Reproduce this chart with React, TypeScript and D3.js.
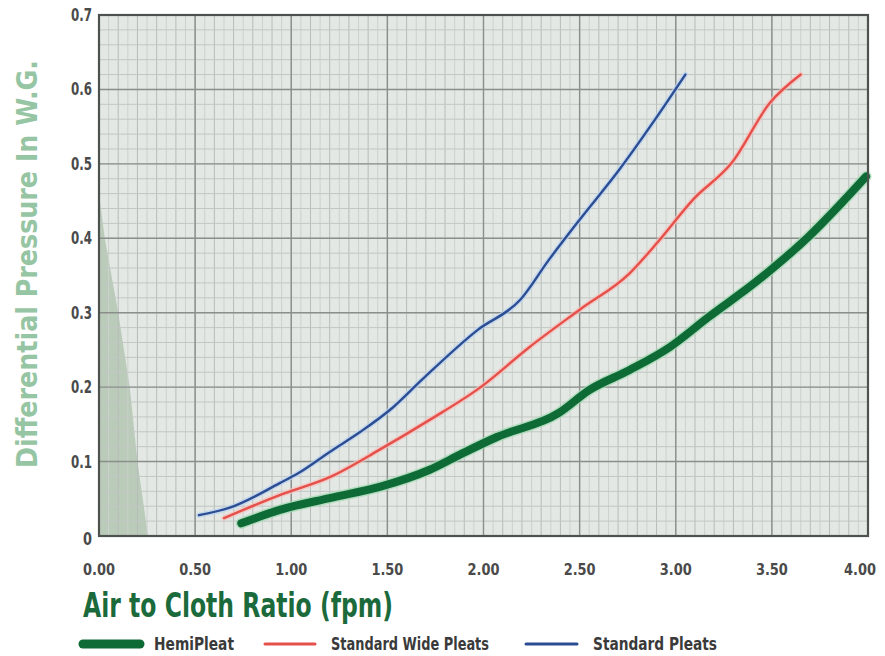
import React from "react";
import * as d3 from "d3";

const xTicks = [0, 0.5, 1, 1.5, 2, 2.5, 3, 3.5, 4];
const yTicks = [0, 0.1, 0.2, 0.3, 0.4, 0.5, 0.6, 0.7];

const hemiX = [0.74, 0.94, 1.2, 1.46, 1.72, 1.89, 2.07, 2.39, 2.55, 2.76, 2.97, 3.17, 3.43, 3.69, 3.99];
const hemiY = [0.017, 0.035, 0.051, 0.066, 0.089, 0.111, 0.133, 0.165, 0.196, 0.223, 0.254, 0.294, 0.344, 0.402, 0.483];

const wideX = [0.65, 0.94, 1.2, 1.46, 1.72, 1.98, 2.24, 2.5, 2.76, 2.91, 3.09, 3.29, 3.49, 3.65];
const wideY = [0.024, 0.055, 0.079, 0.116, 0.156, 0.199, 0.254, 0.304, 0.353, 0.396, 0.452, 0.501, 0.582, 0.62];

const stdX = [0.52, 0.68, 0.94, 1.04, 1.2, 1.36, 1.53, 1.68, 1.97, 2.19, 2.34, 2.5, 2.7, 2.88, 3.05];
const stdY = [0.028, 0.038, 0.071, 0.085, 0.113, 0.14, 0.173, 0.21, 0.277, 0.317, 0.371, 0.425, 0.49, 0.555, 0.62];

// decorative shaded wedge at left of the plot (x extent per pressure level)
const shadeX = [0, 0.005, 0.03, 0.1, 0.16, 0.2, 0.255];
const shadeY = [0.49, 0.45, 0.4, 0.3, 0.2, 0.1, 0];

const seriesNames = ["HemiPleat", "Standard Wide Pleats", "Standard Pleats"];

const FONT = "'Liberation Sans Narrow', 'DejaVu Sans Condensed', 'Liberation Sans', sans-serif";

export default function App() {
  const L = 99, R = 868, T = 15, B = 536;
  const x = d3.scaleLinear().domain([0, 4]).range([L, R]);
  const y = d3.scaleLinear().domain([0, 0.7]).range([B, T]);

  const line = d3
    .line<[number, number]>()
    .x((d) => x(d[0]))
    .y((d) => y(d[1]))
    .curve(d3.curveMonotoneX);

  const toPts = (xs: number[], ys: number[]) => xs.map((v, i) => [v, ys[i]] as [number, number]);

  const fine = d3.range(0, 4.0001, 0.05);
  const yMinor = d3.range(0, 0.7001, 0.02);

  const shadePts: [number, number][] = [[0, shadeY[0]], ...toPts(shadeX, shadeY), [0, 0]];
  const shadePath =
    "M" + shadePts.map((p) => `${x(p[0])},${y(p[1])}`).join("L") + "Z";

  const series = [
    { name: seriesNames[0], pts: toPts(hemiX, hemiY), color: "#0e6b36", w: 8, halo: "#9fd9b0" },
    { name: seriesNames[1], pts: toPts(wideX, wideY), color: "#e5504a", w: 2.4, halo: "#f7c0bc" },
    { name: seriesNames[2], pts: toPts(stdX, stdY), color: "#2c4d93", w: 2.4, halo: "#b9d3f0" },
  ];

  const legend = [
    { x1: 83, x2: 140, tx: 154, tl: 80, ...series[0] },
    { x1: 265, x2: 315, tx: 331, tl: 158, ...series[1] },
    { x1: 526, x2: 577, tx: 593, tl: 124, ...series[2] },
  ];

  return (
    <svg
      width={885}
      height={656}
      style={{ position: "absolute", left: 0, top: 0, background: "#ffffff" }}
      fontFamily={FONT}
    >
      <rect x={L} y={T} width={R - L} height={B - T} fill="#e3e8e4" />
      <path d={shadePath} fill="#b3c6b3" opacity={0.85} />
      {fine.map((v, i) => (
        <line
          key={"fx" + i}
          x1={x(v)}
          x2={x(v)}
          y1={T}
          y2={B}
          stroke={i % 2 === 0 ? "#b7bcb8" : "#ccd1cd"}
          strokeWidth={1}
        />
      ))}
      {yMinor.map((v, i) => (
        <line key={"fy" + i} x1={L} x2={R} y1={y(v)} y2={y(v)} stroke="#c2c7c3" strokeWidth={1} />
      ))}
      {xTicks.map((v, i) => (
        <line key={"mx" + i} x1={x(v)} x2={x(v)} y1={T} y2={B} stroke="#8a8f8c" strokeWidth={1.4} />
      ))}
      {yTicks.map((v, i) => (
        <line key={"my" + i} x1={L} x2={R} y1={y(v)} y2={y(v)} stroke="#8a8f8c" strokeWidth={1.4} />
      ))}
      {series.map((s) => (
        <g key={s.name}>
          <path d={line(s.pts) || ""} fill="none" stroke={s.halo} strokeWidth={s.w + 3} strokeLinecap="round" strokeLinejoin="round" opacity={0.7} />
          <path d={line(s.pts) || ""} fill="none" stroke={s.color} strokeWidth={s.w} strokeLinecap="round" strokeLinejoin="round" />
        </g>
      ))}
      <rect x={L} y={T} width={R - L} height={B - T} fill="none" stroke="#4e524f" strokeWidth={2.2} />

      {yTicks.map((v, i) => (
        <text
          key={"yl" + i}
          x={92}
          y={v === 0 ? y(v) + 9 : y(v) + 6}
          textAnchor="end"
          fontSize={17}
          fontWeight="bold"
          fill="#4a4a4a"
          textLength={v === 0 ? 9 : 21}
          lengthAdjust="spacingAndGlyphs"
        >
          {v === 0 ? "0" : d3.format(".1f")(v)}
        </text>
      ))}
      {xTicks.map((v, i) => (
        <text
          key={"xl" + i}
          x={Math.min(x(v) + 16, 876)}
          y={575}
          textAnchor="end"
          fontSize={16}
          fontWeight="bold"
          fill="#4a4a4a"
          textLength={32}
          lengthAdjust="spacingAndGlyphs"
        >
          {d3.format(".2f")(v)}
        </text>
      ))}

      <text
        x={83}
        y={617}
        fontSize={33}
        fontWeight="bold"
        fill="#1b6a3b"
        textLength={310}
        lengthAdjust="spacingAndGlyphs"
      >
        Air to Cloth Ratio (fpm)
      </text>
      <text
        transform="translate(37,264) rotate(-90)"
        textAnchor="middle"
        fontSize={29}
        fontWeight="bold"
        fill="#96c5a3"
        textLength={408}
        lengthAdjust="spacingAndGlyphs"
      >
        Differential Pressure In W.G.
      </text>

      {legend.map((l) => (
        <g key={"lg" + l.name}>
          <line x1={l.x1} x2={l.x2} y1={644} y2={644} stroke={l.color} strokeWidth={l.w === 8 ? 9 : 3} strokeLinecap="round" />
          <text
            x={l.tx}
            y={650}
            fontSize={17}
            fontWeight="bold"
            fill="#3a3a3a"
            textLength={l.tl}
            lengthAdjust="spacingAndGlyphs"
          >
            {l.name}
          </text>
        </g>
      ))}
    </svg>
  );
}
